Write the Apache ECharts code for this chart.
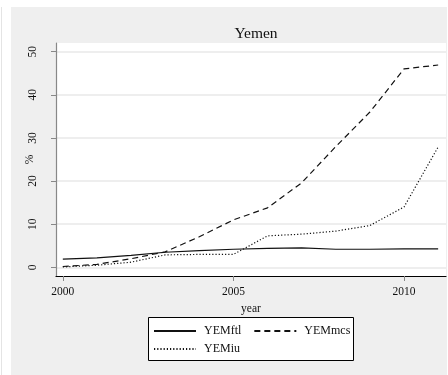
<!DOCTYPE html>
<html>
<head>
<meta charset="utf-8">
<script src="https://cdn.jsdelivr.net/npm/echarts@6/dist/echarts.min.js"></script>
<style>
html,body{margin:0;padding:0;background:#fff;}
#c{width:448px;height:375px;}
</style>
</head>
<body>
<div id="c"></div>
<script>
const years = [2000,2001,2002,2003,2004,2005,2006,2007,2008,2009,2010,2011];
const YEMftl = [1.9,2.2,2.8,3.5,3.9,4.2,4.4,4.5,4.2,4.2,4.3,4.3];
const YEMmcs = [0.2,0.7,2.0,3.6,7.1,11.0,13.8,19.6,28.0,36.0,46.0,46.9];
const YEMiu  = [0.1,0.5,1.2,2.9,3.0,3.0,7.3,7.7,8.4,9.7,14.0,27.9];
const xTicks = [2000,2005,2010];
const yTicks = [0,10,20,30,40,50];
const seriesNames = ['YEMftl','YEMmcs','YEMiu'];

const font = 'Liberation Serif';
function pairs(v){ return years.map((y,i)=>[y,v[i]]); }
const styles = [
  {type:'solid'},
  {type:[6,4]},
  {type:[1.2,2]}
];
const allData = [YEMftl, YEMmcs, YEMiu];

const legendCommon = {
  orient:'horizontal',
  itemWidth:42, itemHeight:6, itemGap:12,
  padding:0,
  itemStyle:{opacity:0},
  textStyle:{fontFamily:font, fontSize:12, color:'#111', lineHeight:14, padding:[0,0,0,3]}
};

const chart = echarts.init(document.getElementById('c'), null, {renderer:'canvas'});
chart.setOption({
  animation:false,
  backgroundColor:'#ffffff',
  graphic:[
    {type:'rect', shape:{x:11,y:7,width:436,height:368}, style:{fill:'#efefef'}, z:-10, silent:true},
    {type:'line', shape:{x1:1.5,y1:7,x2:1.5,y2:375}, style:{stroke:'#e4e4e4',lineWidth:1}, z:-10, silent:true},
    {type:'rect', shape:{x:148.5,y:317.5,width:205,height:43}, style:{fill:'#ffffff', stroke:'#000', lineWidth:1}, z:1, silent:true}
  ],
  title:{
    text:'Yemen', left:251, top:21, textAlign:'center',
    textStyle:{fontFamily:font, fontSize:15.5, fontWeight:'normal', color:'#111'}
  },
  grid:{left:56, right:2, top:43, bottom:99, show:true, backgroundColor:'#ffffff', borderWidth:0},
  legend:[
    Object.assign({data:seriesNames.slice(0,2), left:153, top:324}, legendCommon),
    Object.assign({data:seriesNames.slice(2), left:153, top:342}, legendCommon)
  ],
  xAxis:{
    type:'value', min:1999.8, max:2011.23,
    name:'year', nameLocation:'middle', nameGap:19,
    nameTextStyle:{fontFamily:font, fontSize:11.5, color:'#111'},
    axisLine:{show:true, onZero:false, lineStyle:{color:'#000', width:1.2}},
    axisTick:{show:true, length:5, customValues:xTicks, lineStyle:{color:'#888'}},
    axisLabel:{customValues:xTicks, margin:10, fontFamily:font, fontSize:11.5, color:'#111', formatter:v=>String(v)},
    splitLine:{show:false}
  },
  yAxis:{
    type:'value', min:-2, max:52,
    name:'%', nameLocation:'middle', nameGap:20, nameRotate:90, nameMoveOverlap:false,
    nameTextStyle:{fontFamily:font, fontSize:11.5, color:'#111'},
    axisLine:{show:true, onZero:false, lineStyle:{color:'#888', width:1.2}},
    axisTick:{show:true, length:5, customValues:yTicks, lineStyle:{color:'#888'}},
    axisLabel:{customValues:yTicks, rotate:90, margin:17, fontFamily:font, fontSize:11.5, color:'#111'},
    splitLine:{show:true, lineStyle:{color:'#e8e8e8', width:1.5}}
  },
  series: seriesNames.map((n,i)=>({
    name:n, type:'line', data:pairs(allData[i]),
    showSymbol:false, symbol:'none',
    lineStyle:Object.assign({color:'#111', width:1.2}, styles[i]),
    itemStyle:{color:'#111'}
  }))
});
</script>
</body>
</html>
